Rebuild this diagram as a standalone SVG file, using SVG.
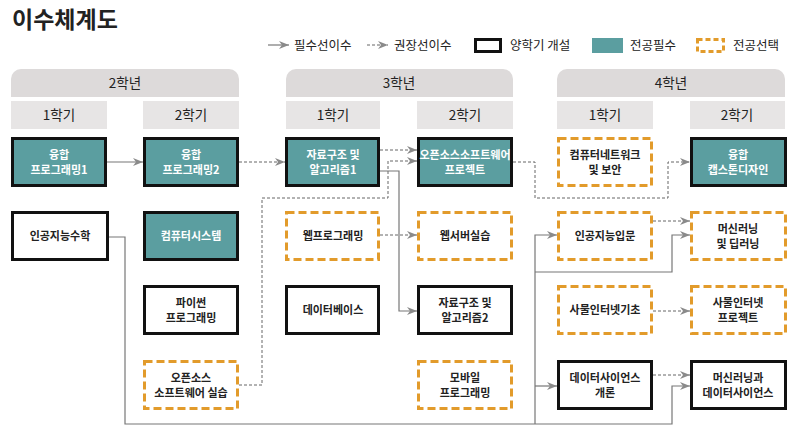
<svg xmlns="http://www.w3.org/2000/svg" width="800" height="437" viewBox="0 0 800 437">
<defs>
<marker id="ah" markerWidth="11" markerHeight="9" refX="10" refY="4" orient="auto" markerUnits="userSpaceOnUse">
<path d="M0,0 L10,4 L0,8 L3,4 Z" fill="#8a8a8a"/>
</marker>
</defs>
<style>
text{font-family:"Noto Sans CJK KR","Noto Sans",sans-serif;}
.title{font-size:23px;font-weight:700;fill:#222;}
.leg{font-size:12.5px;fill:#222;}
.yr{fill:#dddada;}
.sem{fill:#e7e5e5;}
.hd{font-size:13.5px;fill:#222;text-anchor:middle;}
.nt{font-size:11px;font-weight:700;text-anchor:middle;fill:#222;}
.tw{fill:#fff;}
.req{fill:#5b9ea0;stroke:#111;stroke-width:3;}
.both{fill:#fff;stroke:#111;stroke-width:3;}
.elec{fill:#fff;stroke:#e29b2b;stroke-width:3;stroke-dasharray:8 4;}
.solid{fill:none;stroke:#777;stroke-width:1.2;}
.dash{fill:none;stroke:#666;stroke-width:1;stroke-dasharray:3 2;}
.arr{marker-end:url(#ah);}
</style>
<rect width="800" height="437" fill="#fff"/>
<text class="title" x="12" y="28">이수체계도</text>

<g id="legend">
<path class="solid arr" d="M268,45 H289"/>
<text class="leg" x="294" y="50">필수선이수</text>
<path class="dash arr" d="M367,45 H388"/>
<text class="leg" x="394" y="50">권장선이수</text>
<rect x="475.5" y="39.5" width="25" height="12" fill="#fff" stroke="#111" stroke-width="3"/>
<text class="leg" x="510" y="50">양학기 개설</text>
<rect x="592" y="38" width="31" height="15" fill="#5b9ea0"/>
<text class="leg" x="630" y="50">전공필수</text>
<rect x="697.5" y="39.5" width="26" height="12" fill="none" stroke="#e29b2b" stroke-width="3" stroke-dasharray="5 3"/>
<text class="leg" x="733" y="50">전공선택</text>
</g>

<g id="headers">
<path class="yr" d="M11,97 V79 A10,10 0 0 1 21,69 H229 A10,10 0 0 1 239,79 V97 Z"/>
<text class="hd" x="125" y="88">2학년</text>
<path class="yr" d="M286,97 V79 A10,10 0 0 1 296,69 H503 A10,10 0 0 1 513,79 V97 Z"/>
<text class="hd" x="399" y="88">3학년</text>
<path class="yr" d="M557,97 V79 A10,10 0 0 1 567,69 H775 A10,10 0 0 1 785,79 V97 Z"/>
<text class="hd" x="671" y="88">4학년</text>
<rect class="sem" x="11" y="101" width="96" height="28"/>
<text class="hd" x="59" y="120">1학기</text>
<rect class="sem" x="143" y="101" width="96" height="28"/>
<text class="hd" x="191" y="120">2학기</text>
<rect class="sem" x="286" y="101" width="94" height="28"/>
<text class="hd" x="333" y="120">1학기</text>
<rect class="sem" x="417" y="101" width="96" height="28"/>
<text class="hd" x="465" y="120">2학기</text>
<rect class="sem" x="557" y="101" width="96" height="28"/>
<text class="hd" x="605" y="120">1학기</text>
<rect class="sem" x="690" y="101" width="95" height="28"/>
<text class="hd" x="737" y="120">2학기</text>
</g>

<g id="connectors">
<path class="solid arr" d="M107,162 H143"/>
<path class="dash arr" d="M239,162 H285"/>
<path class="dash arr" d="M380,150 H417"/>
<path class="dash arr" d="M239,385 H262 V198 H388 V161 H417"/>
<path class="solid arr" d="M380,171 H399 V311 H417"/>
<path class="dash arr" d="M380,235 H417"/>
<path class="dash arr" d="M513,162 H535 V198 H668 V162 H690"/>
<path class="dash arr" d="M653,221 H690"/>
<path class="solid arr" d="M107,237 H125 V424 H672 V386 H690"/>
<path class="solid arr" d="M535,424 V235 H557"/>
<path class="solid arr" d="M535,272 H672 V235 H690"/>
<path class="solid arr" d="M535,386 H557"/>
<path class="dash arr" d="M653,311 H690"/>
<path class="dash arr" d="M653,375 H690"/>
</g>

<g id="n1"><rect class="req" x="12.5" y="138.5" width="93" height="47"/><text class="nt tw" x="59" y="158.5">융합</text><text class="nt tw" x="59" y="173.5">프로그래밍1</text></g>
<g id="n2"><rect class="req" x="144.5" y="138.5" width="93" height="47"/><text class="nt tw" x="191" y="158.5">융합</text><text class="nt tw" x="191" y="173.5">프로그래밍2</text></g>
<g id="n3"><rect class="both" x="12.5" y="212.5" width="95" height="47"/><text class="nt" x="60" y="240">인공지능수학</text></g>
<g id="n4"><rect class="req" x="144.5" y="212.5" width="93" height="47"/><text class="nt tw" x="191" y="240">컴퓨터시스템</text></g>
<g id="n5"><rect class="both" x="144.5" y="286.5" width="93" height="47"/><text class="nt" x="191" y="306.5">파이썬</text><text class="nt" x="191" y="321.5">프로그래밍</text></g>
<g id="n6"><rect class="elec" x="144.5" y="361.5" width="93" height="47"/><text class="nt" x="191" y="381.5">오픈소스</text><text class="nt" x="191" y="396.5">소프트웨어 실습</text></g>
<g id="n7"><rect class="req" x="286.5" y="138.5" width="92" height="47"/><text class="nt tw" x="333" y="158.5">자료구조 및</text><text class="nt tw" x="333" y="173.5">알고리즘1</text></g>
<g id="n8"><rect class="req" x="418.5" y="138.5" width="93" height="47"/><text class="nt tw" x="465" y="158.5">오픈소스소프트웨어</text><text class="nt tw" x="465" y="173.5">프로젝트</text></g>
<g id="n9"><rect class="elec" x="286.5" y="212.5" width="92" height="47"/><text class="nt" x="333" y="240">웹프로그래밍</text></g>
<g id="n10"><rect class="elec" x="418.5" y="212.5" width="93" height="47"/><text class="nt" x="465" y="240">웹서버실습</text></g>
<g id="n11"><rect class="both" x="286.5" y="286.5" width="92" height="47"/><text class="nt" x="333" y="314">데이터베이스</text></g>
<g id="n12"><rect class="both" x="418.5" y="286.5" width="93" height="47"/><text class="nt" x="465" y="306.5">자료구조 및</text><text class="nt" x="465" y="321.5">알고리즘2</text></g>
<g id="n13"><rect class="elec" x="418.5" y="361.5" width="93" height="47"/><text class="nt" x="465" y="381.5">모바일</text><text class="nt" x="465" y="396.5">프로그래밍</text></g>
<g id="n14"><rect class="elec" x="558.5" y="138.5" width="93" height="47"/><text class="nt" x="605" y="158.5">컴퓨터네트워크</text><text class="nt" x="605" y="173.5">및 보안</text></g>
<g id="n15"><rect class="req" x="691.5" y="138.5" width="94" height="47"/><text class="nt tw" x="738" y="158.5">융합</text><text class="nt tw" x="738" y="173.5">캡스톤디자인</text></g>
<g id="n16"><rect class="elec" x="558.5" y="212.5" width="93" height="47"/><text class="nt" x="605" y="240">인공지능입문</text></g>
<g id="n17"><rect class="elec" x="691.5" y="212.5" width="94" height="47"/><text class="nt" x="738" y="232.5">머신러닝</text><text class="nt" x="738" y="247.5">및 딥러닝</text></g>
<g id="n18"><rect class="elec" x="558.5" y="286.5" width="93" height="47"/><text class="nt" x="605" y="314">사물인터넷기초</text></g>
<g id="n19"><rect class="elec" x="691.5" y="286.5" width="94" height="47"/><text class="nt" x="738" y="306.5">사물인터넷</text><text class="nt" x="738" y="321.5">프로젝트</text></g>
<g id="n20"><rect class="both" x="558.5" y="361.5" width="93" height="47"/><text class="nt" x="605" y="381.5">데이터사이언스</text><text class="nt" x="605" y="396.5">개론</text></g>
<g id="n21"><rect class="both" x="691.5" y="361.5" width="94" height="47"/><text class="nt" x="738" y="381.5">머신러닝과</text><text class="nt" x="738" y="396.5">데이터사이언스</text></g>
</svg>
